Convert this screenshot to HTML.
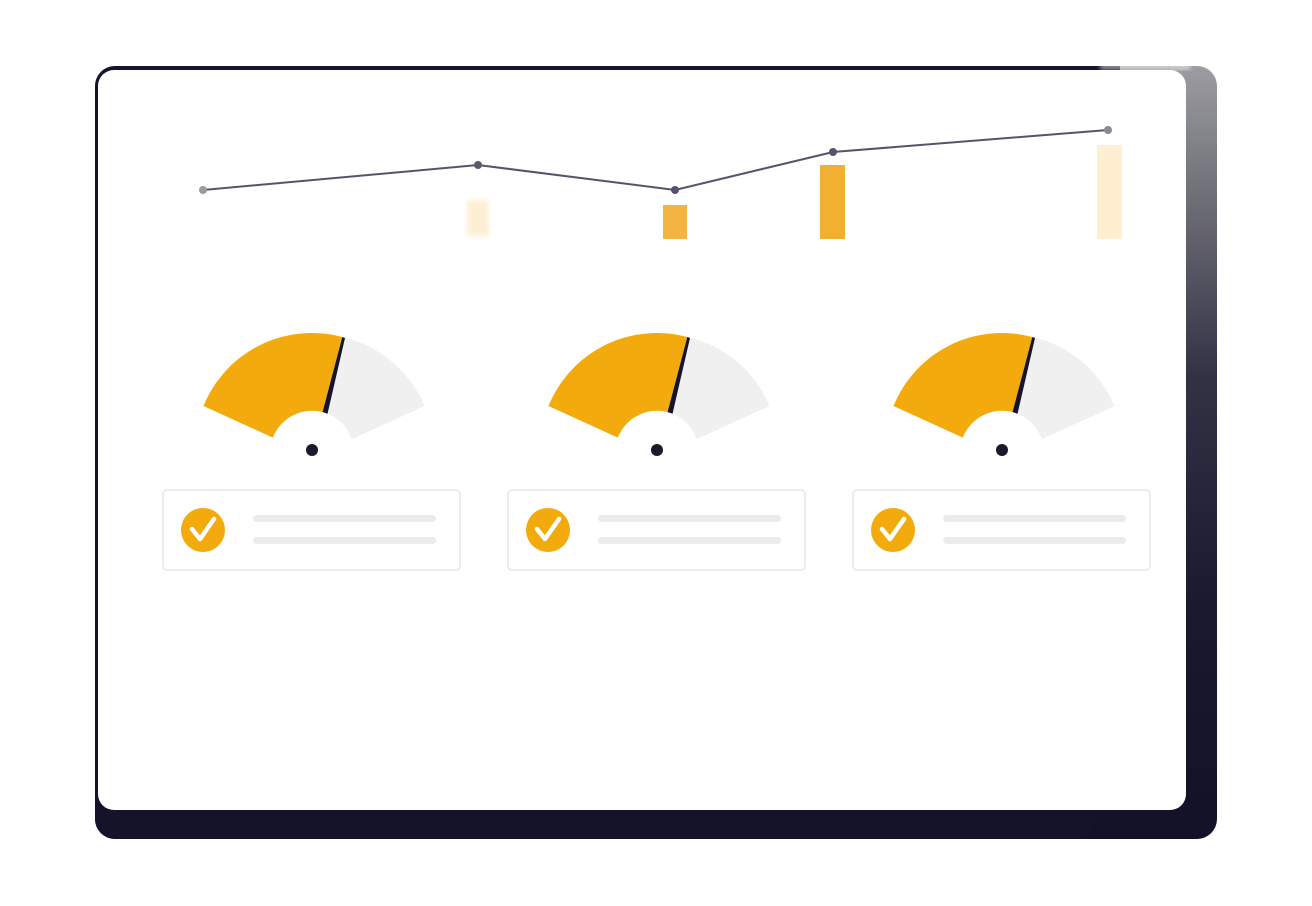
<!DOCTYPE html>
<html><head><style>
html,body{margin:0;padding:0;background:#fff;width:1312px;height:906px;overflow:hidden}
</style></head><body>
<svg width="1312" height="906" viewBox="0 0 1312 906" xmlns="http://www.w3.org/2000/svg">
<defs>
<linearGradient id="rg" x1="0" y1="0" x2="0" y2="1">
<stop offset="0" stop-color="#9c9ca2"/>
<stop offset="0.15" stop-color="#74747c"/>
<stop offset="0.4" stop-color="#333245"/>
<stop offset="0.7" stop-color="#1a192e"/>
<stop offset="1" stop-color="#121128"/>
</linearGradient>
<filter id="bl"><feGaussianBlur stdDeviation="2"/></filter>
</defs>
<rect x="95" y="66" width="1122" height="773" rx="20" fill="url(#rg)"/>
<rect x="95" y="300" width="1000" height="539" rx="20" fill="#14132a"/>
<rect x="95" y="66" width="1000" height="300" rx="20" fill="#14132a"/>
<rect x="1060" y="66" width="60" height="10" fill="#14132a"/>
<rect x="98" y="70" width="1088" height="740" rx="16" fill="#fff"/>
<rect x="1100" y="63" width="90" height="7" fill="#fff" opacity="0.5" filter="url(#bl)"/>
<polyline points="203,190 478,165 675,190 833,152 1108,130" fill="none" stroke="#55546a" stroke-width="2"/>
<circle cx="203" cy="190" r="4" fill="#9a9aa2"/>
<circle cx="478" cy="165" r="4" fill="#5a5a6a"/>
<circle cx="675" cy="190" r="4" fill="#55546a"/>
<circle cx="833" cy="152" r="4" fill="#55546a"/>
<circle cx="1108" cy="130" r="4" fill="#8a8a94"/>
<rect x="467" y="200" width="22" height="36" fill="#fbe6bb" opacity="0.6" filter="url(#bl)"/>
<rect x="663" y="205" width="24" height="34" fill="#f2b544"/>
<rect x="820" y="165" width="25" height="74" fill="#f2b030"/>
<rect x="1097" y="145" width="25" height="94" fill="#fdefcf"/>
<g id="g1">
<path d="M203.5,406 A117,117 0 0 1 342.3,337 L321.5,416 A36,36 0 0 0 278,440 Z" fill="#f3aa0c"/>
<path d="M342.3,337 A117,117 0 0 1 424.5,406 L350,440 A36,36 0 0 0 321.5,416 Z" fill="#f0f0f0"/>
<path d="M342.3,337 L345,338 L327,416 L321.5,416 Z" fill="#15142a"/>
<path d="M272,440 A42,42 0 0 1 352,440 Z" fill="#fff"/>
<circle cx="312" cy="450" r="6" fill="#1a1a2a"/>
<rect x="163" y="490" width="297" height="80" rx="4" fill="#fff" stroke="#e6e6e6" stroke-width="1.5"/>
<circle cx="203" cy="530" r="22" fill="#f3aa0c"/>
<path d="M192,529 L200,539 L214,519" fill="none" stroke="#fff" stroke-width="4.5" stroke-linecap="round" stroke-linejoin="round"/>
<rect x="253" y="515" width="183" height="7" rx="3.5" fill="#ebebeb"/>
<rect x="253" y="537" width="183" height="7" rx="3.5" fill="#ebebeb"/>
</g>
<use href="#g1" x="345"/>
<use href="#g1" x="690"/>
</svg>
</body></html>
